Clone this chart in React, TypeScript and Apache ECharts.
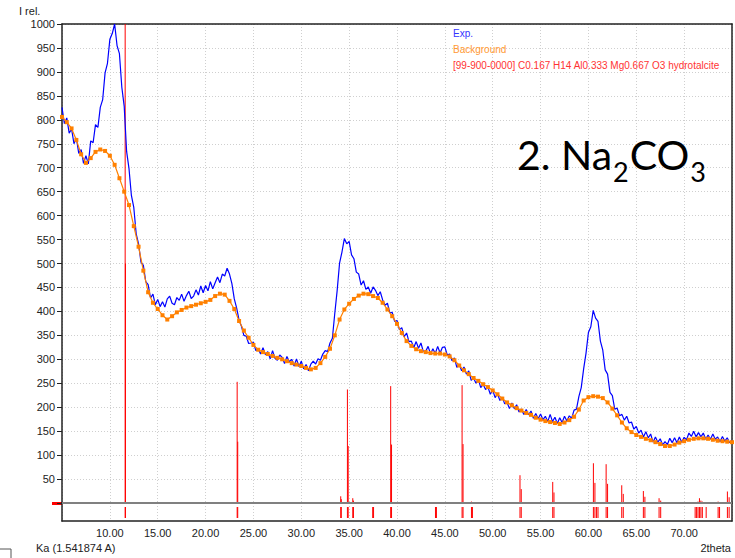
import React, { useEffect, useRef } from 'react';
import * as echarts from 'echarts';

// ---- data ----
const EXP_NAME = 'Exp.';
const BG_NAME = 'Background';
const REF_NAME = '[99-900-0000] C0.167 H14 Al0.333 Mg0.667 O3 hydrotalcite';

const EXP_START = 5;
const EXP_STEP = 0.25;
const expValues = [
  826, 792, 804, 772, 781, 750, 762, 730, 738, 709, 725, 708, 756, 752, 790, 784, 826, 842, 898, 918,
  968, 980, 1000, 955, 938, 868, 828, 734, 698, 642, 617, 562, 541, 503, 496, 462, 456, 428, 436, 414,
  425, 410, 420, 409, 426, 432, 417, 414, 429, 423, 436, 421, 433, 442, 427, 432, 445, 434, 453, 439,
  454, 443, 462, 447, 460, 472, 460, 478, 474, 490, 478, 458, 426, 407, 382, 369, 350, 348, 333, 334,
  336, 318, 322, 311, 324, 310, 316, 301, 318, 302, 298, 309, 304, 291, 306, 295, 300, 286, 301, 285,
  296, 280, 289, 276, 290, 296, 290, 301, 298, 311, 318, 316, 334, 344, 396, 444, 501, 524, 552, 541,
  546, 518, 510, 482, 478, 455, 464, 446, 451, 438, 451, 444, 433, 441, 424, 413, 417, 397, 398, 379,
  381, 362, 366, 347, 355, 337, 338, 324, 337, 323, 334, 316, 317, 327, 311, 322, 312, 327, 313, 325,
  326, 309, 311, 297, 303, 283, 290, 276, 284, 269, 276, 256, 261, 250, 258, 241, 248, 237, 242, 227,
  236, 220, 228, 214, 221, 207, 210, 197, 209, 197, 205, 190, 196, 185, 195, 184, 192, 177, 187, 176,
  186, 174, 181, 170, 185, 170, 179, 166, 178, 168, 181, 171, 182, 177, 194, 196, 222, 241, 280, 313,
  356, 368, 402, 386, 379, 338, 319, 278, 269, 231, 224, 196, 198, 182, 185, 173, 181, 167, 169, 154,
  160, 146, 152, 138, 149, 136, 144, 127, 138, 127, 134, 121, 128, 122, 135, 126, 136, 126, 138, 127,
  137, 132, 146, 139, 150, 138, 147, 138, 146, 133, 142, 133, 144, 133, 138, 128, 139, 129, 136, 126, 131,
];

const BG_START = 5;
const BG_STEP = 0.5;
const bgValues = [
  806, 795, 782, 758, 728, 710, 720, 733, 738, 735,
  725, 706, 678, 650, 622, 578, 535, 485, 440, 418,
  405, 392, 383, 390, 398, 403, 408, 411, 414, 417,
  420, 424, 432, 437, 435, 422, 405, 380, 360, 345,
  330, 320, 315, 311, 307, 303, 300, 296, 292, 289,
  286, 282, 279, 282, 292, 305, 322, 350, 383, 404,
  416, 426, 433, 437, 436, 432, 428, 418, 404, 390,
  374, 355, 338, 328, 321, 317, 315, 313, 312, 312,
  310, 306, 298, 287, 277, 269, 261, 255, 248, 242,
  235, 227, 218, 210, 204, 198, 193, 188, 184, 178,
  174, 171, 169, 167, 165, 168, 173, 180, 195, 214,
  221, 223, 222, 219, 210, 197, 183, 168, 156, 148,
  142, 138, 134, 131, 127, 123, 119, 119, 122, 126,
  129, 132, 134, 135, 135, 134, 132, 130, 129, 128, 127,
];

// reference (hydrotalcite) line positions (2theta) and relative intensities (per mille)
const refPositions = [
  11.6, 11.63, 23.3, 23.36, 34.12, 34.18, 34.82, 34.9, 35.38, 35.45,
  37.46, 37.55, 39.34, 39.43, 44.02, 44.12, 46.8, 46.9, 47.78, 47.88,
  52.85, 52.98, 56.27, 56.4, 60.52, 60.68, 60.85, 61.0, 61.85, 62.0,
  63.48, 63.64, 65.74, 65.9, 67.38, 67.55, 71.15, 71.3, 71.45, 71.6,
  71.75, 71.9, 72.3, 73.55, 73.7, 74.52, 74.7,
];
const refIntensities = [
  1000, 500, 253, 128, 14, 8, 237, 119, 10, 5,
  2, 1, 244, 122, 1, 1, 246, 123, 3, 2,
  58, 29, 44, 22, 83, 42, 2, 1, 81, 40,
  37, 19, 25, 13, 10, 5, 2, 2, 3, 10,
  5, 3, 2, 3, 2, 24, 12,
];

// annotation: text pieces, true = subscript
const ANNOT_PIECES: [string, boolean][] = [
  ['2. Na', false],
  ['2', true],
  ['CO', false],
  ['3', true],
];

const X_MIN = 5;
const X_MAX = 75;
const X_INTERVAL = 5;
const Y_MAX = 1000;
const Y_INTERVAL = 50;

const FONT = '"Liberation Sans", Arial, sans-serif';
const ANNOT_FONT = 'Lato';

function measure(text: string, size: number): number {
  const c = document.createElement('canvas');
  const ctx = c.getContext('2d');
  if (!ctx) return text.length * size * 0.55;
  ctx.font = `${size}px ${ANNOT_FONT}`;
  return ctx.measureText(text).width;
}

export default function App() {
  const ref = useRef<HTMLDivElement>(null);
  useEffect(() => {
    if (!ref.current) return;
    const chart = echarts.init(ref.current, undefined, { renderer: 'svg' });

    const expData = expValues.map((v, i) => [EXP_START + i * EXP_STEP, v]);
    const bgData = bgValues.map((v, i) => [BG_START + i * BG_STEP, v]);
    const refData = refPositions.map((p, i) => [p, refIntensities[i]]);
    const refTickData = refPositions.map((p) => [p, 15]);

    // annotation layout
    const mainSize = 41;
    const subSize = 27;
    const baseX = 517;
    const baseY = 170;
    const subDrop = 12;
    const k = 0.387;
    let cx = baseX;
    const annot = ANNOT_PIECES.map(([t, sub]) => {
      const size = sub ? subSize : mainSize;
      const y = sub ? baseY + subDrop - k * size : baseY - k * size;
      const el = {
        type: 'text',
        x: cx,
        y,
        z: 10,
        style: { text: t, fontSize: size, fontFamily: ANNOT_FONT, fill: '#000', verticalAlign: 'middle', align: 'left' },
      };
      cx += measure(t, size) + 1;
      return el;
    });

    const gridLine = { show: true, lineStyle: { color: '#cfcfcf', type: [1, 2] as any, width: 1 } };
    const frame = { show: true, onZero: false, lineStyle: { color: '#222', width: 1.5 } };

    const option: any = {
      animation: false,
      backgroundColor: '#ffffff',
      textStyle: { fontFamily: FONT },
      grid: [
        { left: 62, top: 24, width: 670, height: 479 },
        { left: 62, top: 503, width: 670, height: 18 },
      ],
      legend: {
        orient: 'vertical',
        left: 443,
        top: 23,
        itemGap: 5,
        itemWidth: 0,
        itemHeight: 11,
        icon: 'rect',
        itemStyle: { opacity: 0 },
        lineStyle: { opacity: 0 },
        selectedMode: false,
        textStyle: { fontSize: 10, fontFamily: FONT },
        data: [
          { name: EXP_NAME, textStyle: { color: '#3333ff' } },
          { name: BG_NAME, textStyle: { color: '#ff9933' } },
          { name: REF_NAME, textStyle: { color: '#ff3333' } },
        ],
      },
      xAxis: [
        {
          gridIndex: 0, type: 'value', min: X_MIN, max: X_MAX, interval: X_INTERVAL, position: 'top',
          axisLine: frame, axisTick: { show: false }, axisLabel: { show: false }, splitLine: gridLine,
        },
        {
          gridIndex: 1, type: 'value', min: X_MIN, max: X_MAX, interval: X_INTERVAL, position: 'bottom',
          axisLine: frame, axisTick: { show: false },
          axisLabel: {
            show: true, margin: 6, fontSize: 11, color: '#222', fontFamily: FONT,
            formatter: (v: number) => (v <= X_MIN || v >= X_MAX ? '' : v.toFixed(2)),
          },
          splitLine: gridLine,
        },
      ],
      yAxis: [
        {
          gridIndex: 0, type: 'value', min: 0, max: Y_MAX, interval: Y_INTERVAL, position: 'left',
          axisLine: frame,
          axisTick: { show: true, length: 5, lineStyle: { color: '#222' } },
          axisLabel: {
            margin: 7, fontSize: 11, color: '#222', fontFamily: FONT,
            formatter: (v: number) => (v === 0 ? '' : String(v)),
          },
          splitLine: gridLine,
        },
        {
          gridIndex: 0, type: 'value', min: 0, max: Y_MAX, position: 'right',
          axisLine: frame, axisTick: { show: false }, axisLabel: { show: false }, splitLine: { show: false },
        },
        {
          gridIndex: 1, type: 'value', min: 0, max: 18, inverse: true, position: 'left',
          axisLine: frame, axisTick: { show: false }, axisLabel: { show: false }, splitLine: { show: false },
        },
        {
          gridIndex: 1, type: 'value', min: 0, max: 18, inverse: true, position: 'right',
          axisLine: frame, axisTick: { show: false }, axisLabel: { show: false }, splitLine: { show: false },
        },
      ],
      series: [
        {
          name: REF_NAME,
          type: 'custom',
          xAxisIndex: 0,
          yAxisIndex: 0,
          z: 2,
          itemStyle: { color: '#ff0000' },
          data: refData,
          renderItem: (params: any, api: any) => {
            const x = api.value(0);
            const h = api.value(1);
            const p0 = api.coord([x, 0]);
            const p1 = api.coord([x, h]);
            return {
              type: 'line',
              shape: { x1: p0[0], y1: p0[1], x2: p1[0], y2: p1[1] },
              style: { stroke: '#ff0000', lineWidth: 1 },
            };
          },
        },
        {
          name: REF_NAME,
          type: 'custom',
          xAxisIndex: 1,
          yAxisIndex: 2,
          z: 2,
          itemStyle: { color: '#ff0000' },
          data: refTickData,
          renderItem: (params: any, api: any) => {
            const x = api.value(0);
            const b = api.value(1);
            const p0 = api.coord([x, 4]);
            const p1 = api.coord([x, b]);
            return {
              type: 'line',
              shape: { x1: p0[0], y1: p0[1], x2: p1[0], y2: p1[1] },
              style: { stroke: '#ff0000', lineWidth: 1 },
            };
          },
        },
        {
          name: EXP_NAME,
          type: 'line',
          xAxisIndex: 0,
          yAxisIndex: 0,
          z: 3,
          data: expData,
          showSymbol: false,
          color: '#0000ff',
          lineStyle: { color: '#0000ff', width: 1.2 },
        },
        {
          name: BG_NAME,
          type: 'line',
          xAxisIndex: 0,
          yAxisIndex: 0,
          z: 4,
          data: bgData,
          color: '#ff8000',
          symbol: 'rect',
          symbolSize: 4,
          showSymbol: true,
          showAllSymbol: true,
          itemStyle: { color: '#ff8000' },
          lineStyle: { color: '#ff8000', width: 1.2 },
          markLine: {
            silent: true,
            symbol: 'none',
            label: { show: false },
            lineStyle: { color: '#808080', width: 2, type: 'solid' },
            data: [{ yAxis: 0 }],
          },
        },
      ],
      graphic: [
        {
          type: 'text', x: 19, y: 11,
          style: { text: 'I rel.', fontSize: 11, fontFamily: FONT, fill: '#222', verticalAlign: 'middle' },
        },
        {
          type: 'text', x: 36, y: 548,
          style: { text: 'Ka (1.541874 A)', fontSize: 11, fontFamily: FONT, fill: '#222', verticalAlign: 'middle' },
        },
        {
          type: 'text', x: 731, y: 548,
          style: { text: '2theta', fontSize: 11, fontFamily: FONT, fill: '#222', align: 'right', verticalAlign: 'middle' },
        },
        {
          type: 'rect', shape: { x: 52, y: 502, width: 10, height: 3 }, style: { fill: '#ff0000' },
        },
        {
          type: 'rect', shape: { x: -2, y: 549, width: 13, height: 14 },
          style: { fill: 'none', stroke: '#555', lineWidth: 1 },
        },
        ...annot,
      ],
    };

    chart.setOption(option);
    return () => chart.dispose();
  }, []);

  return (
    <div
      ref={ref}
      style={{ position: 'absolute', left: 0, top: 0, width: 735, height: 558, background: '#fff' }}
    />
  );
}
